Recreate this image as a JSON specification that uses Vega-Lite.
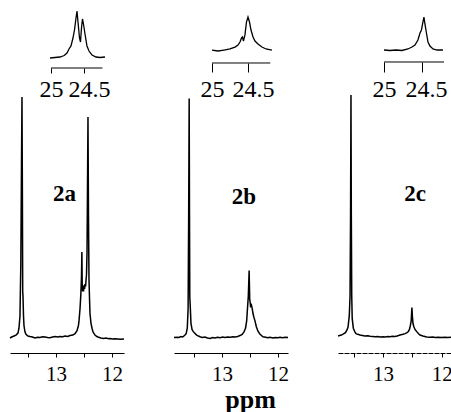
{
"$schema": "https://vega.github.io/schema/vega-lite/v6.json",
"padding": {"left": 7, "top": 8, "right": 0, "bottom": 0},
"background": "white",
"config": {"view": {"stroke": null}, "font": "Liberation Serif", "axis": {"grid": false, "domainColor": "black", "tickColor": "black", "labelColor": "black", "titleColor": "black", "labelFont": "Liberation Serif", "titleFont": "Liberation Serif", "labelFlush": false, "labelOverlap": false}},
"datasets": {
"specA": [{"ppm":13.821,"v":0.0},{"ppm":13.79,"v":0.004},{"ppm":13.75,"v":0.008},{"ppm":13.714,"v":0.012},{"ppm":13.679,"v":0.02},{"ppm":13.661,"v":0.04},{"ppm":13.643,"v":0.09},{"ppm":13.628,"v":0.3},{"ppm":13.616,"v":0.7},{"ppm":13.607,"v":0.984},{"ppm":13.6,"v":0.6},{"ppm":13.594,"v":0.19},{"ppm":13.589,"v":0.17},{"ppm":13.58,"v":0.09},{"ppm":13.571,"v":0.05},{"ppm":13.554,"v":0.025},{"ppm":13.536,"v":0.015},{"ppm":13.5,"v":0.008},{"ppm":13.464,"v":0.006},{"ppm":13.42,"v":0.004},{"ppm":13.375,"v":0.0},{"ppm":13.33,"v":0.003},{"ppm":13.286,"v":0.002},{"ppm":13.24,"v":0.005},{"ppm":13.196,"v":0.004},{"ppm":13.15,"v":0.002},{"ppm":13.107,"v":0.001},{"ppm":13.06,"v":0.004},{"ppm":13.018,"v":0.006},{"ppm":12.97,"v":0.004},{"ppm":12.929,"v":0.006},{"ppm":12.88,"v":0.005},{"ppm":12.839,"v":0.008},{"ppm":12.79,"v":0.006},{"ppm":12.75,"v":0.01},{"ppm":12.7,"v":0.012},{"ppm":12.66,"v":0.018},{"ppm":12.625,"v":0.03},{"ppm":12.6,"v":0.05},{"ppm":12.589,"v":0.07},{"ppm":12.571,"v":0.12},{"ppm":12.556,"v":0.18},{"ppm":12.545,"v":0.25},{"ppm":12.538,"v":0.351},{"ppm":12.532,"v":0.22},{"ppm":12.525,"v":0.19},{"ppm":12.518,"v":0.21},{"ppm":12.508,"v":0.19},{"ppm":12.5,"v":0.215},{"ppm":12.49,"v":0.2},{"ppm":12.482,"v":0.22},{"ppm":12.472,"v":0.21},{"ppm":12.464,"v":0.235},{"ppm":12.455,"v":0.26},{"ppm":12.446,"v":0.35},{"ppm":12.438,"v":0.6},{"ppm":12.429,"v":0.902},{"ppm":12.42,"v":0.5},{"ppm":12.411,"v":0.24},{"ppm":12.4,"v":0.15},{"ppm":12.393,"v":0.1},{"ppm":12.375,"v":0.06},{"ppm":12.357,"v":0.04},{"ppm":12.339,"v":0.025},{"ppm":12.304,"v":0.012},{"ppm":12.27,"v":0.006},{"ppm":12.25,"v":0.004},{"ppm":12.2,"v":0.0},{"ppm":12.15,"v":-0.002},{"ppm":12.107,"v":0.0},{"ppm":12.06,"v":-0.003},{"ppm":12.036,"v":-0.002},{"ppm":11.99,"v":-0.004},{"ppm":11.946,"v":-0.003},{"ppm":11.9,"v":-0.004},{"ppm":11.857,"v":-0.005},{"ppm":11.786,"v":-0.004}],
"specB": [{"ppm":13.857,"v":0.002},{"ppm":13.804,"v":0.003},{"ppm":13.77,"v":0.002},{"ppm":13.732,"v":0.006},{"ppm":13.7,"v":0.004},{"ppm":13.661,"v":0.012},{"ppm":13.64,"v":0.018},{"ppm":13.62,"v":0.04},{"ppm":13.605,"v":0.12},{"ppm":13.595,"v":0.5},{"ppm":13.586,"v":0.978},{"ppm":13.58,"v":0.5},{"ppm":13.575,"v":0.17},{"ppm":13.565,"v":0.12},{"ppm":13.554,"v":0.06},{"ppm":13.535,"v":0.035},{"ppm":13.518,"v":0.028},{"ppm":13.49,"v":0.02},{"ppm":13.452,"v":0.012},{"ppm":13.42,"v":0.008},{"ppm":13.393,"v":0.005},{"ppm":13.35,"v":0.002},{"ppm":13.304,"v":0.004},{"ppm":13.26,"v":0.0},{"ppm":13.21,"v":-0.002},{"ppm":13.17,"v":0.002},{"ppm":13.125,"v":0.0},{"ppm":13.08,"v":0.003},{"ppm":13.03,"v":0.001},{"ppm":12.99,"v":0.004},{"ppm":12.946,"v":0.002},{"ppm":12.9,"v":0.004},{"ppm":12.85,"v":0.003},{"ppm":12.81,"v":0.005},{"ppm":12.768,"v":0.004},{"ppm":12.72,"v":0.006},{"ppm":12.679,"v":0.01},{"ppm":12.64,"v":0.015},{"ppm":12.607,"v":0.025},{"ppm":12.58,"v":0.04},{"ppm":12.559,"v":0.07},{"ppm":12.545,"v":0.12},{"ppm":12.53,"v":0.17},{"ppm":12.515,"v":0.275},{"ppm":12.505,"v":0.16},{"ppm":12.49,"v":0.13},{"ppm":12.475,"v":0.135},{"ppm":12.46,"v":0.12},{"ppm":12.446,"v":0.1},{"ppm":12.43,"v":0.085},{"ppm":12.411,"v":0.07},{"ppm":12.385,"v":0.045},{"ppm":12.357,"v":0.028},{"ppm":12.32,"v":0.015},{"ppm":12.268,"v":0.005},{"ppm":12.22,"v":0.003},{"ppm":12.18,"v":0.001},{"ppm":12.143,"v":0.003},{"ppm":12.09,"v":0.0},{"ppm":12.05,"v":0.002},{"ppm":12.0,"v":0.001},{"ppm":11.964,"v":0.003},{"ppm":11.92,"v":0.001},{"ppm":11.87,"v":0.003},{"ppm":11.821,"v":0.002}],
"specC": [{"ppm":13.767,"v":0.008},{"ppm":13.74,"v":0.01},{"ppm":13.71,"v":0.012},{"ppm":13.681,"v":0.016},{"ppm":13.64,"v":0.022},{"ppm":13.61,"v":0.035},{"ppm":13.596,"v":0.045},{"ppm":13.575,"v":0.09},{"ppm":13.562,"v":0.169},{"ppm":13.553,"v":0.5},{"ppm":13.546,"v":0.992},{"ppm":13.54,"v":0.5},{"ppm":13.533,"v":0.17},{"ppm":13.525,"v":0.08},{"ppm":13.506,"v":0.04},{"ppm":13.48,"v":0.025},{"ppm":13.46,"v":0.018},{"ppm":13.43,"v":0.015},{"ppm":13.392,"v":0.012},{"ppm":13.35,"v":0.01},{"ppm":13.31,"v":0.008},{"ppm":13.26,"v":0.009},{"ppm":13.221,"v":0.007},{"ppm":13.18,"v":0.006},{"ppm":13.13,"v":0.005},{"ppm":13.09,"v":0.006},{"ppm":13.051,"v":0.004},{"ppm":13.0,"v":0.005},{"ppm":12.96,"v":0.004},{"ppm":12.92,"v":0.006},{"ppm":12.881,"v":0.005},{"ppm":12.84,"v":0.007},{"ppm":12.8,"v":0.006},{"ppm":12.76,"v":0.008},{"ppm":12.71,"v":0.012},{"ppm":12.66,"v":0.015},{"ppm":12.625,"v":0.018},{"ppm":12.59,"v":0.022},{"ppm":12.569,"v":0.026},{"ppm":12.55,"v":0.035},{"ppm":12.535,"v":0.05},{"ppm":12.52,"v":0.07},{"ppm":12.508,"v":0.124},{"ppm":12.5,"v":0.09},{"ppm":12.49,"v":0.06},{"ppm":12.475,"v":0.046},{"ppm":12.455,"v":0.035},{"ppm":12.426,"v":0.026},{"ppm":12.39,"v":0.016},{"ppm":12.37,"v":0.012},{"ppm":12.32,"v":0.008},{"ppm":12.256,"v":0.004},{"ppm":12.2,"v":0.003},{"ppm":12.15,"v":0.004},{"ppm":12.114,"v":0.002},{"ppm":12.06,"v":0.003},{"ppm":12.0,"v":0.002},{"ppm":11.944,"v":0.003},{"ppm":11.9,"v":0.002},{"ppm":11.842,"v":0.003}],
"insA": [{"ppm":25.015,"v":0.167},{"ppm":24.94,"v":0.175},{"ppm":24.864,"v":0.183},{"ppm":24.8,"v":0.208},{"ppm":24.758,"v":0.25},{"ppm":24.727,"v":0.317},{"ppm":24.697,"v":0.367},{"ppm":24.667,"v":0.5},{"ppm":24.644,"v":0.633},{"ppm":24.621,"v":0.833},{"ppm":24.606,"v":0.95},{"ppm":24.591,"v":0.767},{"ppm":24.568,"v":0.5},{"ppm":24.553,"v":0.433},{"ppm":24.538,"v":0.667},{"ppm":24.523,"v":0.817},{"ppm":24.508,"v":0.733},{"ppm":24.485,"v":0.567},{"ppm":24.455,"v":0.367},{"ppm":24.424,"v":0.283},{"ppm":24.379,"v":0.217},{"ppm":24.318,"v":0.183},{"ppm":24.258,"v":0.175},{"ppm":24.182,"v":0.183}],
"insB": [{"ppm":25.0,"v":0.236},{"ppm":24.917,"v":0.218},{"ppm":24.833,"v":0.236},{"ppm":24.75,"v":0.255},{"ppm":24.68,"v":0.29},{"ppm":24.639,"v":0.327},{"ppm":24.611,"v":0.382},{"ppm":24.59,"v":0.455},{"ppm":24.576,"v":0.473},{"ppm":24.563,"v":0.4},{"ppm":24.542,"v":0.51},{"ppm":24.521,"v":0.745},{"ppm":24.5,"v":0.836},{"ppm":24.479,"v":0.745},{"ppm":24.458,"v":0.6},{"ppm":24.43,"v":0.473},{"ppm":24.403,"v":0.4},{"ppm":24.361,"v":0.345},{"ppm":24.306,"v":0.29},{"ppm":24.25,"v":0.255},{"ppm":24.167,"v":0.236}],
"insC": [{"ppm":25.0,"v":0.222},{"ppm":24.921,"v":0.213},{"ppm":24.842,"v":0.222},{"ppm":24.763,"v":0.213},{"ppm":24.684,"v":0.241},{"ppm":24.632,"v":0.278},{"ppm":24.592,"v":0.315},{"ppm":24.553,"v":0.407},{"ppm":24.526,"v":0.537},{"ppm":24.507,"v":0.593},{"ppm":24.487,"v":0.741},{"ppm":24.474,"v":0.833},{"ppm":24.461,"v":0.704},{"ppm":24.441,"v":0.537},{"ppm":24.421,"v":0.37},{"ppm":24.395,"v":0.296},{"ppm":24.355,"v":0.241},{"ppm":24.303,"v":0.222},{"ppm":24.224,"v":0.222}]
},
"hconcat": [
 {"width": 114, "height": 345,
  "resolve": {"scale": {"x": "independent", "y": "independent"}, "axis": {"x": "independent"}},
  "layer": [
   {"layer": [
    {"data": {"name": "specA"}, "mark": {"type": "line", "color": "black", "strokeWidth": 1.5},
     "encoding": {"x": {"field": "ppm", "type": "quantitative", "title": null, "scale": {"domain": [13.821, 11.786], "nice": false, "zero": false},
       "axis": {"orient": "bottom", "values": [13.5, 13, 12.5, 12], "tickCount": 10, "labelExpr": "datum.value === 13 ? '13' : datum.value === 12 ? '12' : ''", "tickSize": 4, "labelPadding": 6, "labelFontSize": 21}},
      "y": {"field": "v", "type": "quantitative", "scale": {"domain": [-0.0612, 1.347], "nice": false, "zero": false}, "axis": null}}},
    {"data": {"values": [{"label": "2a", "ppm": 12.848, "v": 0.586}]}, "mark": {"type": "text", "fontSize": 23, "fontWeight": "bold", "font": "Liberation Serif", "align": "center", "baseline": "middle", "color": "black"},
     "encoding": {"x": {"field": "ppm", "type": "quantitative"}, "y": {"field": "v", "type": "quantitative"}, "text": {"field": "label"}}}
   ]},
   {"layer": [
    {"data": {"name": "insA"}, "mark": {"type": "line", "color": "black", "strokeWidth": 1.3},
     "encoding": {"x": {"field": "ppm", "type": "quantitative", "title": null, "scale": {"domain": [25.621, 23.894], "nice": false, "zero": false},
       "axis": {"orient": "bottom", "offset": -285, "values": [25, 24.5], "tickCount": 10, "labelExpr": "datum.value === 25 ? '25' : '24.5'", "domain": false, "tickSize": 5, "labelPadding": 4, "labelFontSize": 24, "labelOffset": {"condition": {"test": "datum.value === 24.5", "value": 5}, "value": 0}}},
      "y": {"field": "v", "type": "quantitative", "scale": {"domain": [-4.75, 1], "nice": false, "zero": false}, "axis": null}}},
    {"data": {"values": [{"from": 25, "to": 24.22, "v": 0}]}, "mark": {"type": "rule", "color": "black", "strokeWidth": 1},
     "encoding": {"x": {"field": "from", "type": "quantitative", "title": null}, "x2": {"field": "to"}, "y": {"field": "v", "type": "quantitative"}}}
   ]}
  ]},
 {"width": 114, "height": 345,
  "resolve": {"scale": {"x": "independent", "y": "independent"}, "axis": {"x": "independent"}},
  "layer": [
   {"layer": [
    {"data": {"name": "specB"}, "mark": {"type": "line", "color": "black", "strokeWidth": 1.5},
     "encoding": {"x": {"field": "ppm", "type": "quantitative", "title": "ppm", "scale": {"domain": [13.857, 11.821], "nice": false, "zero": false},
       "axis": {"orient": "bottom", "values": [13.5, 13, 12.5, 12], "tickCount": 10, "labelExpr": "datum.value === 13 ? '13' : datum.value === 12 ? '12' : ''", "tickSize": 4, "labelPadding": 6, "labelFontSize": 21, "titleFontSize": 26, "titleFontWeight": "bold", "titleX": 76, "titleY": 54, "titleBaseline": "alphabetic", "titleAlign": "center"}},
      "y": {"field": "v", "type": "quantitative", "scale": {"domain": [-0.0612, 1.347], "nice": false, "zero": false}, "axis": null}}},
    {"data": {"values": [{"label": "2b", "ppm": 12.607, "v": 0.576}]}, "mark": {"type": "text", "fontSize": 23, "fontWeight": "bold", "font": "Liberation Serif", "align": "center", "baseline": "middle", "color": "black"},
     "encoding": {"x": {"field": "ppm", "type": "quantitative"}, "y": {"field": "v", "type": "quantitative"}, "text": {"field": "label"}}}
   ]},
   {"layer": [
    {"data": {"name": "insB"}, "mark": {"type": "line", "color": "black", "strokeWidth": 1.3},
     "encoding": {"x": {"field": "ppm", "type": "quantitative", "title": null, "scale": {"domain": [25.528, 23.944], "nice": false, "zero": false},
       "axis": {"orient": "bottom", "offset": -290, "values": [25, 24.5], "tickCount": 10, "labelExpr": "datum.value === 25 ? '25' : '24.5'", "domain": false, "tickSize": 9, "labelPadding": 5, "labelFontSize": 24, "labelOffset": {"condition": {"test": "datum.value === 24.5", "value": 5}, "value": 0}}},
      "y": {"field": "v", "type": "quantitative", "scale": {"domain": [-5.273, 1], "nice": false, "zero": false}, "axis": null}}},
    {"data": {"values": [{"from": 25, "to": 24.19, "v": 0}]}, "mark": {"type": "rule", "color": "black", "strokeWidth": 1},
     "encoding": {"x": {"field": "from", "type": "quantitative", "title": null}, "x2": {"field": "to"}, "y": {"field": "v", "type": "quantitative"}}}
   ]}
  ]},
 {"width": 113, "height": 345,
  "resolve": {"scale": {"x": "independent", "y": "independent"}, "axis": {"x": "independent"}},
  "layer": [
   {"layer": [
    {"data": {"name": "specC"}, "mark": {"type": "line", "color": "black", "strokeWidth": 1.5},
     "encoding": {"x": {"field": "ppm", "type": "quantitative", "title": null, "scale": {"domain": [13.767, 11.842], "nice": false, "zero": false},
       "axis": {"orient": "bottom", "values": [13.5, 13, 12.5, 12], "tickCount": 10, "labelExpr": "datum.value === 13 ? '13' : datum.value === 12 ? '12' : ''", "tickSize": 4, "labelPadding": 6, "labelFontSize": 21, "domainDash": [5, 1]}},
      "y": {"field": "v", "type": "quantitative", "scale": {"domain": [-0.0612, 1.347], "nice": false, "zero": false}, "axis": null}}},
    {"data": {"values": [{"label": "2c", "ppm": 12.455, "v": 0.588}]}, "mark": {"type": "text", "fontSize": 23, "fontWeight": "bold", "font": "Liberation Serif", "align": "center", "baseline": "middle", "color": "black"},
     "encoding": {"x": {"field": "ppm", "type": "quantitative"}, "y": {"field": "v", "type": "quantitative"}, "text": {"field": "label"}}}
   ]},
   {"layer": [
    {"data": {"name": "insC"}, "mark": {"type": "line", "color": "black", "strokeWidth": 1.3},
     "encoding": {"x": {"field": "ppm", "type": "quantitative", "title": null, "scale": {"domain": [25.605, 24.118], "nice": false, "zero": false},
       "axis": {"orient": "bottom", "offset": -291, "values": [25, 24.5], "tickCount": 10, "labelExpr": "datum.value === 25 ? '25' : '24.5'", "domain": false, "tickSize": 10, "labelPadding": 5, "labelFontSize": 24, "labelOffset": {"condition": {"test": "datum.value === 24.5", "value": 4}, "value": 0}}},
      "y": {"field": "v", "type": "quantitative", "scale": {"domain": [-5.39, 1], "nice": false, "zero": false}, "axis": null}}},
    {"data": {"values": [{"from": 25, "to": 24.21, "v": 0}]}, "mark": {"type": "rule", "color": "black", "strokeWidth": 1},
     "encoding": {"x": {"field": "from", "type": "quantitative", "title": null}, "x2": {"field": "to"}, "y": {"field": "v", "type": "quantitative"}}}
   ]}
  ]}
], "spacing": 50, "bounds": "flush"
}
